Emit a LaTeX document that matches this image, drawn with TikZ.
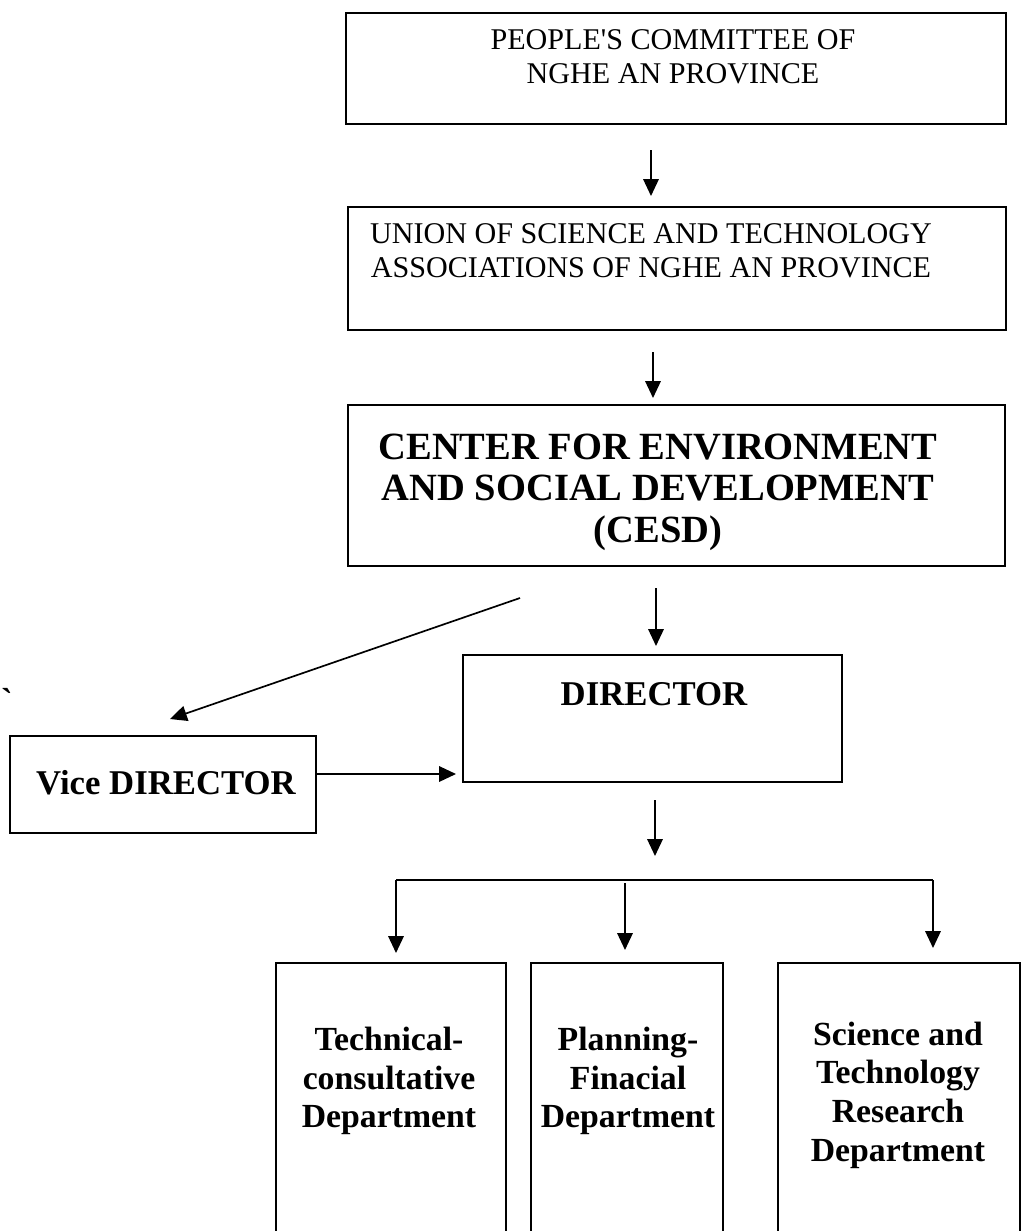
\documentclass[tikz,border=0pt]{standalone}
\usepackage{fontspec}
\setmainfont{Liberation Serif}
\usepackage{tikz}
\usetikzlibrary{arrows.meta,positioning,fit}

\begin{document}
\begin{tikzpicture}[x=0.025cm, y=-0.025cm,
        box/.style={draw, line width=1.2pt, inner sep=0pt},
        plain/.style={align=center, font=\fontsize{21.4}{24.5}\selectfont},
        bigbold/.style={align=center, font=\bfseries\fontsize{27.4}{29.5}\selectfont},
        midbold/.style={align=center, font=\bfseries\fontsize{24}{27.5}\selectfont},
        headbold/.style={align=center, font=\bfseries\fontsize{24.7}{28}\selectfont},
        arr/.style={line width=1.2pt, -{Triangle[length=12pt, width=11pt]}}]
        \useasboundingbox (0,0) rectangle (1024,1231);
        \clip (0,0) rectangle (1024,1231);
        % boxes
        \node[box, fit={(346,13) (1006,124)}] (people) {};
        \node[box, fit={(348,207) (1006,330)}] (union) {};
        \node[box, fit={(348,405) (1005,566)}] (cesd) {};
        \node[box, fit={(463,655) (842,782)}] (director) {};
        \node[box, fit={(10,736) (316,833)}] (vice) {};
        \node[box, fit={(276,963) (506,1280)}] (tech) {};
        \node[box, fit={(531,963) (723,1280)}] (plan) {};
        \node[box, fit={(778,963) (1020,1280)}] (sci) {};
        % texts
        \node[plain] (peopletxt) at (673,57) {PEOPLE\textquotesingle S COMMITTEE OF\\NGHE AN PROVINCE};
        \node[plain] (uniontxt) at (651,251) {UNION OF SCIENCE AND TECHNOLOGY\\ASSOCIATIONS OF NGHE AN PROVINCE};
        \node[bigbold] (cesdtxt) at (658,492) {CENTER FOR ENVIRONMENT\\AND SOCIAL DEVELOPMENT\\(CESD)};
        \node[headbold] (directortxt) at (654,694) {DIRECTOR};
        \node[headbold] (vicetxt) at (166,783) {Vice DIRECTOR};
        \node[midbold] (techtxt) at (389,1081) {Technical-\\consultative\\Department};
        \node[midbold] (plantxt) at (628,1081) {Planning-\\Finacial\\Department};
        \node[midbold] (scitxt) at (898,1095) {Science and\\Technology\\Research\\Department};
        \node[headbold, inner sep=0pt] (tick) at (7,700) {\textasciigrave};
        % arrow ends
        \coordinate (a1s) at (651,150);
        \coordinate (a1e) at (651,196);
        \coordinate (a2s) at (653,352);
        \coordinate (a2e) at (653,398);
        \coordinate (a3s) at (656,588);
        \coordinate (a3e) at (656,646);
        \coordinate (dgs) at (520,598);
        \coordinate (dge) at (170,719);
        \coordinate (vde) at (456,774);
        \coordinate (a4s) at (655,800);
        \coordinate (a4e) at (655,856);
        \coordinate (barL) at (396,880);
        \coordinate (barR) at (933,880);
        \coordinate (barM) at (625,883);
        \coordinate (techin) at (396,953);
        \coordinate (planin) at (625,950);
        \coordinate (sciin) at (933,948);
        % connectors
        \draw[arr] (a1s) -- (a1e);
        \draw[arr] (a2s) -- (a2e);
        \draw[arr] (a3s) -- (a3e);
        \draw[arr] (dgs) -- (dge);
        \draw[arr] (vice.east |- vde) -- (vde);
        \draw[arr] (a4s) -- (a4e);
        \draw[line width=1.2pt] (barL) -- (barR);
        \draw[arr] (barL) -- (techin);
        \draw[arr] (barM) -- (planin);
        \draw[arr] (barR) -- (sciin);
\end{tikzpicture}
\end{document}
